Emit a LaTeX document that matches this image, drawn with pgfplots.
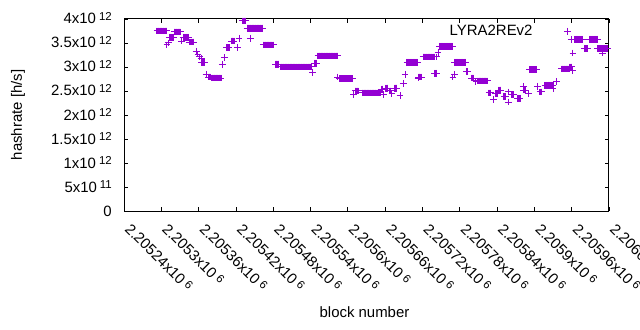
\documentclass[border=0pt]{standalone}
\usepackage{fontspec}
\setmainfont{Liberation Sans}
\usepackage{pgfplots}
\pgfplotsset{compat=1.18}
\definecolor{gpviolet}{RGB}{148,0,211}
\newcommand{\sci}[2]{#1x10\hspace{3bp}\raisebox{3.5bp}{\fontsize{11.5}{12}\selectfont #2}}
\newcommand{\mainfs}{\fontsize{15}{18}\selectfont}
\def\blkintpart#1.#2\blknil{#1}
\begin{document}
\begin{tikzpicture}
\useasboundingbox (0,0) rectangle (640bp,330bp);
\begin{axis}[
  at={(124bp,119bp)}, anchor=south west,
  scale only axis, width=485bp, height=192bp,
  x coord trafo/.code={%
    \pgfmathfloatparsenumber{#1}%
    \pgfmathfloattofixed{\pgfmathresult}%
    \edef\blktmp{\the\numexpr\expandafter\blkintpart\pgfmathresult.\blknil-2205240\relax}%
    \pgfmathfloatparsenumber{\blktmp}},
  xmin=2205240, xmax=2206020, ymin=0, ymax=4e12,
  scaled x ticks=false, scaled y ticks=false,
  xtick={2205240,2205300,2205360,2205420,2205480,2205540,2205600,2205660,2205720,2205780,2205840,2205900,2205960,2206020},
  xticklabels={\sci{2.20524}{6},\sci{2.2053}{6},\sci{2.20536}{6},\sci{2.20542}{6},\sci{2.20548}{6},\sci{2.20554}{6},\sci{2.2056}{6},\sci{2.20566}{6},\sci{2.20572}{6},\sci{2.20578}{6},\sci{2.20584}{6},\sci{2.2059}{6},\sci{2.20596}{6},\sci{2.20602}{6}},
  ytick={0,5e11,1e12,1.5e12,2e12,2.5e12,3e12,3.5e12,4e12},
  yticklabels={0,\sci{5}{11},\sci{1}{12},\sci{1.5}{12},\sci{2}{12},\sci{2.5}{12},\sci{3}{12},\sci{3.5}{12},\sci{4}{12}},
  tick align=inside, major tick length=4bp,
  tick style={black, line width=0.8bp},
  axis line style={black, line width=1bp},
  tick label style={font=\mainfs, text=black},
  yticklabel style={inner sep=0pt, anchor=base east, xshift=-12bp, yshift=-5bp},
  xticklabel style={inner sep=0pt, yshift=-19bp, rotate=-45, anchor=base west},
  xlabel={block number}, ylabel={hashrate [h/s]},
  label style={font=\mainfs, text=black},
  xlabel style={at={(axis description cs:0.4959,-0.557)}, anchor=base, inner sep=0pt},
  ylabel style={at={(axis description cs:-0.2186,0.5)}, anchor=center, inner sep=0pt},
  legend plot pos=right,
  legend image code/.code={\path[draw=none, fill=none] (0bp,0bp) rectangle (40bp,0.1bp); \draw[#1, draw=gpviolet, line width=1bp] plot[mark=+, mark size=3.4bp, mark options={draw=gpviolet, line width=1bp}] coordinates {(34.7bp,0bp)};},
  legend style={draw=none, fill=none, inner sep=0pt, font=\mainfs, text=gpviolet,
    nodes={inner sep=0pt}, at={(axis description cs:0.9252,0.936)}, anchor=east},
]
\addplot[only marks, mark=+, gpviolet, mark size=3.4bp, line width=1bp] coordinates {
(2205293,3.75e12)(2205294,3.75e12)(2205295,3.75e12)(2205296,3.75e12)(2205297,3.75e12)(2205298,3.75e12)(2205299,3.75e12)(2205300,3.75e12)(2205301,3.75e12)(2205302,3.75e12)(2205303,3.75e12)(2205304,3.75e12)(2205305,3.75e12)(2205306,3.75e12)(2205307,3.75e12)(2205308,3.75e12)(2205309,3.75e12)
(2205309,3.46e12)(2205311,3.50e12)
(2205313,3.62e12)(2205314,3.62e12)(2205315,3.62e12)(2205316,3.62e12)(2205317,3.62e12)(2205318,3.62e12)(2205319,3.62e12)
(2205321,3.73e12)(2205322,3.73e12)(2205323,3.73e12)(2205324,3.73e12)(2205325,3.73e12)(2205326,3.73e12)(2205327,3.73e12)(2205328,3.73e12)(2205329,3.73e12)(2205330,3.73e12)(2205331,3.73e12)
(2205333,3.54e12)
(2205335,3.62e12)(2205336,3.62e12)(2205337,3.62e12)(2205338,3.62e12)(2205339,3.62e12)(2205340,3.62e12)(2205341,3.62e12)(2205342,3.62e12)(2205343,3.62e12)(2205344,3.62e12)
(2205345,3.52e12)(2205346,3.52e12)(2205347,3.52e12)(2205348,3.52e12)(2205349,3.52e12)(2205350,3.52e12)(2205351,3.52e12)(2205352,3.52e12)
(2205356,3.33e12)(2205359,3.27e12)(2205361,3.21e12)(2205364,3.17e12)
(2205365,3.10e12)(2205366,3.10e12)(2205367,3.10e12)(2205368,3.10e12)(2205369,3.10e12)
(2205372,2.85e12)
(2205376,2.79e12)(2205377,2.79e12)(2205378,2.79e12)(2205379,2.79e12)
(2205381,2.77e12)(2205382,2.77e12)(2205383,2.77e12)(2205384,2.77e12)(2205385,2.77e12)(2205386,2.77e12)(2205387,2.77e12)(2205388,2.77e12)(2205389,2.77e12)(2205390,2.77e12)(2205391,2.77e12)(2205392,2.77e12)(2205393,2.77e12)(2205394,2.77e12)(2205395,2.77e12)(2205396,2.77e12)
(2205398,3.06e12)(2205402,3.19e12)
(2205405,3.40e12)(2205406,3.40e12)(2205407,3.40e12)(2205408,3.40e12)(2205409,3.40e12)
(2205413,3.54e12)(2205414,3.54e12)(2205415,3.54e12)(2205416,3.54e12)(2205417,3.54e12)
(2205422,3.40e12)(2205425,3.60e12)
(2205431,3.96e12)(2205432,3.96e12)(2205433,3.96e12)(2205434,3.96e12)(2205435,3.96e12)
(2205438,3.81e12)(2205439,3.81e12)(2205440,3.81e12)(2205441,3.81e12)(2205442,3.81e12)(2205443,3.81e12)(2205444,3.81e12)(2205445,3.81e12)(2205446,3.81e12)(2205447,3.81e12)(2205448,3.81e12)(2205449,3.81e12)(2205450,3.81e12)(2205451,3.81e12)(2205452,3.81e12)(2205453,3.81e12)(2205454,3.81e12)(2205455,3.81e12)(2205456,3.81e12)(2205457,3.81e12)(2205458,3.81e12)(2205459,3.81e12)(2205460,3.81e12)(2205461,3.81e12)(2205462,3.81e12)(2205463,3.81e12)
(2205443,3.60e12)
(2205464,3.46e12)(2205465,3.46e12)(2205466,3.46e12)(2205467,3.46e12)(2205468,3.46e12)(2205469,3.46e12)(2205470,3.46e12)(2205471,3.46e12)(2205472,3.46e12)(2205473,3.46e12)(2205474,3.46e12)(2205475,3.46e12)(2205476,3.46e12)(2205477,3.46e12)(2205478,3.46e12)(2205479,3.46e12)(2205480,3.46e12)(2205481,3.46e12)
(2205484,3.06e12)(2205485,3.06e12)(2205486,3.06e12)(2205487,3.06e12)(2205488,3.06e12)(2205489,3.06e12)
(2205492,3.00e12)(2205493,3.00e12)(2205494,3.00e12)(2205495,3.00e12)(2205496,3.00e12)(2205497,3.00e12)(2205498,3.00e12)(2205499,3.00e12)(2205500,3.00e12)(2205501,3.00e12)(2205502,3.00e12)(2205503,3.00e12)(2205504,3.00e12)(2205505,3.00e12)(2205506,3.00e12)(2205507,3.00e12)(2205508,3.00e12)(2205509,3.00e12)(2205510,3.00e12)(2205511,3.00e12)(2205512,3.00e12)(2205513,3.00e12)(2205514,3.00e12)(2205515,3.00e12)(2205516,3.00e12)(2205517,3.00e12)(2205518,3.00e12)(2205519,3.00e12)(2205520,3.00e12)(2205521,3.00e12)(2205522,3.00e12)(2205523,3.00e12)(2205524,3.00e12)(2205525,3.00e12)(2205526,3.00e12)(2205527,3.00e12)(2205528,3.00e12)(2205529,3.00e12)(2205530,3.00e12)(2205531,3.00e12)(2205532,3.00e12)(2205533,3.00e12)(2205534,3.00e12)(2205535,3.00e12)(2205536,3.00e12)(2205537,3.00e12)(2205538,3.00e12)(2205539,3.00e12)(2205540,3.00e12)(2205541,3.00e12)(2205542,3.00e12)
(2205543,2.89e12)
(2205546,3.08e12)(2205547,3.08e12)(2205548,3.08e12)(2205549,3.08e12)(2205550,3.08e12)
(2205552,3.23e12)(2205553,3.23e12)(2205554,3.23e12)(2205555,3.23e12)(2205556,3.23e12)(2205557,3.23e12)(2205558,3.23e12)(2205559,3.23e12)(2205560,3.23e12)(2205561,3.23e12)(2205562,3.23e12)(2205563,3.23e12)(2205564,3.23e12)(2205565,3.23e12)(2205566,3.23e12)(2205567,3.23e12)(2205568,3.23e12)(2205569,3.23e12)(2205570,3.23e12)(2205571,3.23e12)(2205572,3.23e12)(2205573,3.23e12)(2205574,3.23e12)(2205575,3.23e12)(2205576,3.23e12)(2205577,3.23e12)(2205578,3.23e12)(2205579,3.23e12)(2205580,3.23e12)(2205581,3.23e12)(2205582,3.23e12)(2205583,3.23e12)(2205584,3.23e12)
(2205584,2.79e12)
(2205586,2.76e12)(2205587,2.76e12)(2205588,2.76e12)(2205589,2.76e12)(2205590,2.76e12)(2205591,2.76e12)(2205592,2.76e12)(2205593,2.76e12)(2205594,2.76e12)(2205595,2.76e12)(2205596,2.76e12)(2205597,2.76e12)(2205598,2.76e12)(2205599,2.76e12)(2205600,2.76e12)(2205601,2.76e12)(2205602,2.76e12)(2205603,2.76e12)(2205604,2.76e12)(2205605,2.76e12)(2205606,2.76e12)(2205607,2.76e12)(2205608,2.76e12)
(2205609,2.42e12)
(2205612,2.50e12)(2205613,2.50e12)(2205614,2.50e12)(2205615,2.50e12)(2205616,2.50e12)(2205617,2.50e12)
(2205623,2.46e12)(2205624,2.46e12)(2205625,2.46e12)(2205626,2.46e12)(2205627,2.46e12)(2205628,2.46e12)(2205629,2.46e12)(2205630,2.46e12)(2205631,2.46e12)(2205632,2.46e12)(2205633,2.46e12)(2205634,2.46e12)(2205635,2.46e12)(2205636,2.46e12)(2205637,2.46e12)(2205638,2.46e12)(2205639,2.46e12)(2205640,2.46e12)(2205641,2.46e12)(2205642,2.46e12)(2205643,2.46e12)(2205644,2.46e12)(2205645,2.46e12)(2205646,2.46e12)(2205647,2.46e12)(2205648,2.46e12)(2205649,2.46e12)(2205650,2.46e12)(2205651,2.46e12)(2205652,2.46e12)
(2205654,2.54e12)(2205655,2.54e12)(2205656,2.54e12)(2205657,2.42e12)
(2205661,2.56e12)(2205662,2.56e12)(2205663,2.56e12)(2205664,2.56e12)
(2205667,2.50e12)(2205668,2.50e12)(2205669,2.50e12)(2205671,2.44e12)
(2205675,2.56e12)(2205676,2.56e12)(2205677,2.56e12)(2205678,2.56e12)(2205679,2.56e12)
(2205684,2.40e12)(2205689,2.65e12)(2205692,2.85e12)
(2205695,3.10e12)(2205696,3.10e12)(2205697,3.10e12)(2205698,3.10e12)(2205699,3.10e12)(2205700,3.10e12)(2205701,3.10e12)(2205702,3.10e12)(2205703,3.10e12)(2205704,3.10e12)(2205705,3.10e12)(2205706,3.10e12)(2205707,3.10e12)(2205708,3.10e12)(2205709,3.10e12)(2205710,3.10e12)(2205711,3.10e12)(2205712,3.10e12)
(2205713,2.77e12)
(2205714,2.79e12)(2205715,2.79e12)(2205716,2.79e12)(2205717,2.79e12)(2205718,2.79e12)
(2205721,3.21e12)(2205722,3.21e12)(2205723,3.21e12)(2205724,3.21e12)(2205725,3.21e12)(2205726,3.21e12)(2205727,3.21e12)(2205728,3.21e12)(2205729,3.21e12)(2205730,3.21e12)(2205731,3.21e12)(2205732,3.21e12)(2205733,3.21e12)(2205734,3.21e12)(2205735,3.21e12)(2205736,3.21e12)(2205737,3.21e12)(2205738,3.21e12)(2205739,3.21e12)(2205740,3.21e12)
(2205740,2.87e12)(2205741,2.87e12)(2205742,2.87e12)(2205743,2.87e12)
(2205743,3.21e12)(2205745,3.31e12)
(2205748,3.43e12)(2205749,3.43e12)(2205750,3.43e12)(2205751,3.43e12)(2205752,3.43e12)(2205753,3.43e12)(2205754,3.43e12)(2205755,3.43e12)(2205756,3.43e12)(2205757,3.43e12)(2205758,3.43e12)(2205759,3.43e12)(2205760,3.43e12)(2205761,3.43e12)(2205762,3.43e12)(2205763,3.43e12)(2205764,3.43e12)(2205765,3.43e12)(2205766,3.43e12)(2205767,3.43e12)(2205768,3.43e12)
(2205769,2.79e12)(2205772,2.85e12)
(2205772,3.10e12)(2205773,3.10e12)(2205774,3.10e12)(2205775,3.10e12)(2205776,3.10e12)(2205777,3.10e12)(2205778,3.10e12)(2205779,3.10e12)(2205780,3.10e12)(2205781,3.10e12)(2205782,3.10e12)(2205783,3.10e12)(2205784,3.10e12)(2205785,3.10e12)(2205786,3.10e12)(2205787,3.10e12)(2205788,3.10e12)(2205789,3.10e12)(2205790,3.10e12)
(2205791,2.90e12)(2205792,2.90e12)(2205793,2.90e12)
(2205799,2.77e12)(2205800,2.77e12)(2205801,2.77e12)(2205802,2.77e12)
(2205806,2.69e12)
(2205809,2.71e12)(2205810,2.71e12)(2205811,2.71e12)(2205812,2.71e12)(2205813,2.71e12)(2205814,2.71e12)(2205815,2.71e12)(2205816,2.71e12)(2205817,2.71e12)(2205818,2.71e12)(2205819,2.71e12)(2205820,2.71e12)(2205821,2.71e12)(2205822,2.71e12)(2205823,2.71e12)(2205824,2.71e12)
(2205827,2.46e12)(2205828,2.46e12)(2205829,2.46e12)(2205830,2.46e12)
(2205834,2.33e12)
(2205838,2.44e12)(2205839,2.44e12)(2205840,2.44e12)(2205841,2.44e12)
(2205843,2.52e12)(2205844,2.52e12)(2205845,2.52e12)(2205846,2.52e12)
(2205851,2.38e12)(2205852,2.38e12)(2205853,2.38e12)(2205854,2.38e12)
(2205858,2.27e12)(2205859,2.48e12)
(2205864,2.42e12)(2205865,2.42e12)(2205866,2.42e12)(2205867,2.42e12)
(2205873,2.35e12)(2205874,2.35e12)(2205875,2.35e12)(2205876,2.35e12)(2205877,2.35e12)
(2205882,2.60e12)
(2205882,2.52e12)(2205883,2.52e12)(2205884,2.52e12)(2205885,2.52e12)
(2205890,2.44e12)
(2205892,2.94e12)(2205893,2.94e12)(2205894,2.94e12)(2205895,2.94e12)(2205896,2.94e12)(2205897,2.94e12)(2205898,2.94e12)(2205899,2.94e12)(2205900,2.94e12)(2205901,2.94e12)(2205902,2.94e12)(2205903,2.94e12)(2205904,2.94e12)
(2205905,2.60e12)
(2205909,2.48e12)(2205910,2.48e12)(2205911,2.48e12)(2205912,2.48e12)
(2205917,2.62e12)(2205918,2.62e12)(2205919,2.62e12)(2205920,2.62e12)(2205921,2.62e12)(2205922,2.62e12)(2205923,2.62e12)(2205924,2.62e12)(2205925,2.62e12)(2205926,2.62e12)(2205927,2.62e12)(2205928,2.62e12)(2205929,2.62e12)(2205930,2.62e12)
(2205930,2.56e12)(2205936,2.69e12)
(2205944,2.96e12)(2205945,2.96e12)(2205946,2.96e12)(2205947,2.96e12)(2205948,2.96e12)(2205949,2.96e12)(2205950,2.96e12)(2205951,2.96e12)(2205952,2.96e12)(2205953,2.96e12)(2205954,2.96e12)(2205955,2.96e12)(2205956,2.96e12)
(2205957,3.00e12)(2205958,3.00e12)(2205959,3.00e12)(2205960,3.00e12)
(2205962,2.92e12)
(2205962,3.29e12)(2205960,3.58e12)
(2205965,3.58e12)(2205966,3.58e12)(2205967,3.58e12)(2205968,3.58e12)(2205969,3.58e12)(2205970,3.58e12)(2205971,3.58e12)(2205972,3.58e12)(2205973,3.58e12)(2205974,3.58e12)(2205975,3.58e12)(2205976,3.58e12)(2205977,3.58e12)(2205978,3.58e12)
(2205981,3.38e12)(2205982,3.38e12)(2205983,3.38e12)(2205984,3.38e12)(2205985,3.38e12)
(2205988,3.58e12)(2205989,3.58e12)(2205990,3.58e12)(2205991,3.58e12)(2205992,3.58e12)(2205993,3.58e12)(2205994,3.58e12)(2205995,3.58e12)(2205996,3.58e12)(2205997,3.58e12)(2205998,3.58e12)(2205999,3.58e12)(2206000,3.58e12)(2206001,3.58e12)(2206002,3.58e12)
(2206002,3.38e12)(2206003,3.38e12)(2206004,3.38e12)(2206005,3.38e12)(2206006,3.38e12)(2206007,3.38e12)(2206008,3.38e12)(2206009,3.38e12)(2206010,3.38e12)(2206011,3.38e12)(2206012,3.38e12)(2206013,3.38e12)(2206014,3.38e12)(2206015,3.38e12)(2206016,3.38e12)(2206017,3.38e12)
(2206010,3.29e12)
};
\addlegendentry{\textcolor{black}{LYRA2REv2}}
\end{axis}
\end{tikzpicture}
\end{document}
